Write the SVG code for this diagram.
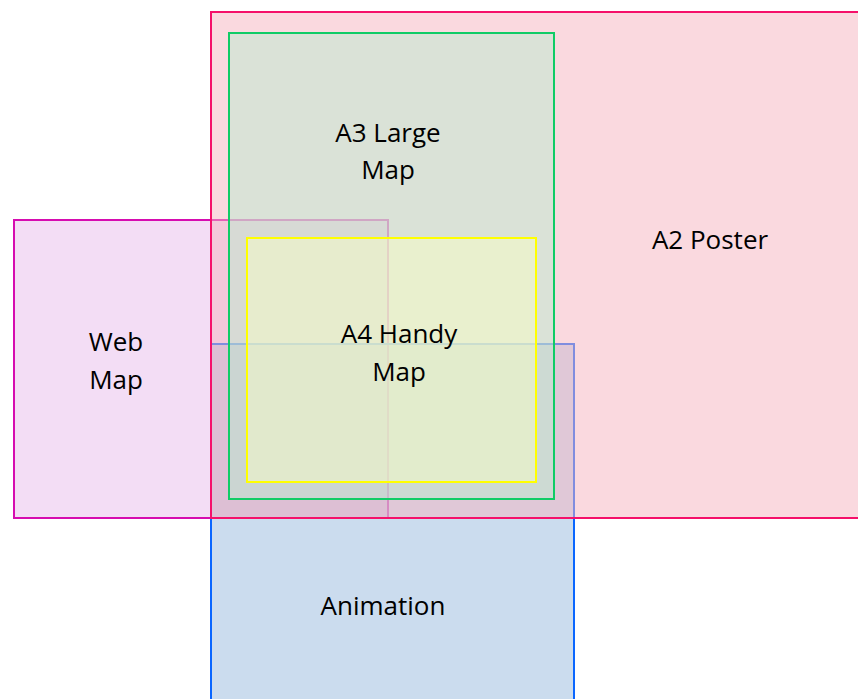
<svg xmlns="http://www.w3.org/2000/svg" width="858" height="699" viewBox="0 0 858 699">
<style>
text{font-family:"Open Sans","Noto Sans","Liberation Sans",sans-serif;font-size:26px;fill:#000;text-anchor:middle}
.r{stroke-width:2}
</style>
<rect width="858" height="699" fill="#fff"/>
<g id="web-map">
<rect class="r" x="14" y="220" width="374" height="298" fill="rgba(231,187,235,0.5)" stroke="#d60cb0"/>
</g>
<g id="animation">
<rect class="r" x="211" y="344" width="363" height="360" fill="rgba(151,185,221,0.5)" stroke="#0a66ff"/>
</g>
<g id="a2-poster">
<rect class="r" x="211" y="12" width="660" height="506" fill="rgba(245,180,192,0.5)" stroke="#f5106a"/>
</g>
<g id="a3-large-map">
<rect class="r" x="229" y="33" width="325" height="466" fill="rgba(185,235,208,0.5)" stroke="#10cc66"/>
</g>
<g id="a4-handy-map">
<rect class="r" x="247" y="238" width="289" height="244" fill="rgba(247,253,198,0.5)" stroke="#ffff00"/>
</g>
<g id="labels">
<text x="388" y="142">A3 Large</text>
<text x="388" y="179">Map</text>
<text x="116" y="351">Web</text>
<text x="116" y="389">Map</text>
<text x="399" y="343">A4 Handy</text>
<text x="399" y="381">Map</text>
<text x="710" y="249">A2 Poster</text>
<text x="383" y="615">Animation</text>
</g>
<g id="connectors"/>
</svg>
